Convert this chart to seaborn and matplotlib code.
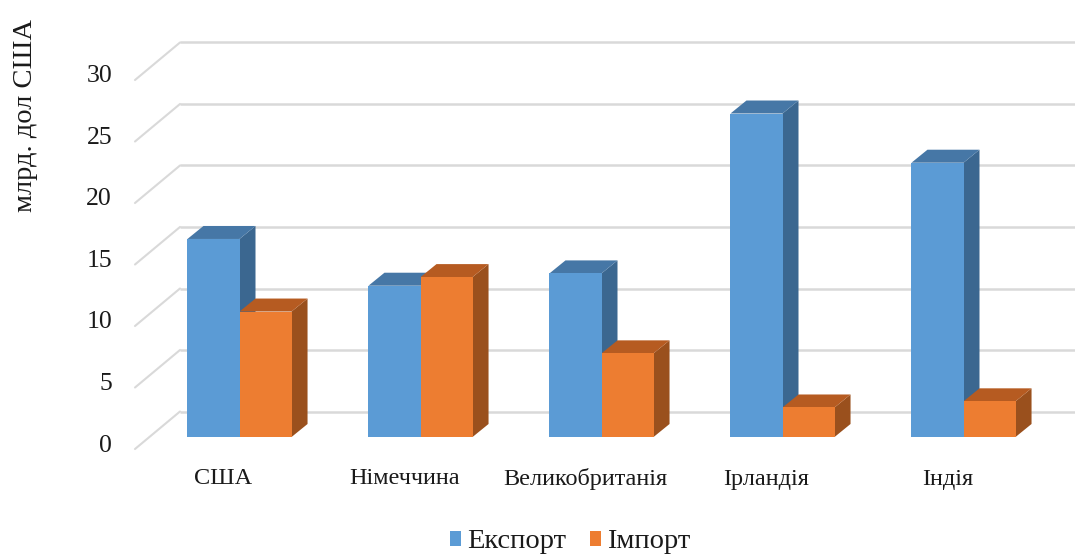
import matplotlib
matplotlib.use("Agg")
import matplotlib.pyplot as plt
import numpy as np
import pandas as pd
import seaborn as sns
from matplotlib.patches import Polygon, Patch

# Trade in services, billion USD
countries = ["США", "Німеччина", "Великобританія", "Ірландія", "Індія"]
export_values = [16.1, 12.3, 13.3, 26.3, 22.3]
import_values = [10.2, 13.0, 6.8, 2.4, 2.9]
series_names = ["Експорт", "Імпорт"]
y_ticks = [0, 5, 10, 15, 20, 25, 30]
y_title = "млрд. дол США"

front_colors = ["#5b9bd5", "#ed7d31"]
top_colors = ["#4677a6", "#b65b21"]
side_colors = ["#3b6790", "#9a501d"]
grid_color = "#d9d9d9"
text_color = "#1a1a1a"

sns.set_theme(style="white")
plt.rcParams["font.family"] = ["Liberation Serif", "DejaVu Serif"]

W, H = 1075, 554
fig = plt.figure(figsize=(W / 100, H / 100), dpi=100)
ax = fig.add_axes([0, 0, 1, 1])

df = pd.DataFrame({
    "country": countries * 2,
    "value": export_values + import_values,
    "series": [series_names[0]] * len(countries) + [series_names[1]] * len(countries),
})
sns.barplot(data=df, x="country", y="value", hue="series", order=countries,
            hue_order=series_names, palette=front_colors, saturation=1,
            width=0.575, linewidth=0, errorbar=None, legend=False, ax=ax)

# pixel layout of the front plane: category step, value scale, baseline
X0, STEP = 239.5, 181.0
Y0, SCALE = 437.0, 12.3
ax.set_xlim(-X0 / STEP, (W - X0) / STEP)
ax.set_ylim(-(H - Y0) / SCALE, Y0 / SCALE)
ax.axis("off")


def dxd(px):
    return px / STEP


def dyd(px):
    return px / SCALE


# depth of the columns (right and up, in pixels)
DEPTH_X, DEPTH_Y = 16, 13
# back wall lies above the front plane, side wall runs to the left
WALL_UP = 25.5
WALL_LEFT_PX = 180
SIDE_FRONT_PX = 135
SIDE_DROP = 37.5

wall_x0 = (WALL_LEFT_PX - X0) / STEP
side_x0 = (SIDE_FRONT_PX - X0) / STEP
x_right = ax.get_xlim()[1]
for v in y_ticks:
    yb = v + dyd(WALL_UP)
    ax.plot([wall_x0, x_right], [yb, yb], color=grid_color, lw=1.8, zorder=0,
            solid_capstyle="butt")
    ax.plot([side_x0, wall_x0], [yb - dyd(SIDE_DROP), yb], color=grid_color,
            lw=1.5, zorder=0)
    ax.text(-(X0 - 112) / STEP, yb - dyd(SIDE_DROP) + dyd(3.5), str(v),
            ha="right", va="center", fontsize=18.5, color=text_color)

# 3D faces for each column
ddx, ddy = dxd(DEPTH_X), dyd(DEPTH_Y)
for k, cont in enumerate(ax.containers):
    for bar in cont:
        x0 = bar.get_x()
        x1 = x0 + bar.get_width()
        y1 = bar.get_height()
        side = Polygon([(x1, 0), (x1 + ddx, ddy), (x1 + ddx, y1 + ddy), (x1, y1)],
                       closed=True, facecolor=side_colors[k], edgecolor="none",
                       zorder=2)
        top = Polygon([(x0, y1), (x1, y1), (x1 + ddx, y1 + ddy), (x0 + ddx, y1 + ddy)],
                      closed=True, facecolor=top_colors[k], edgecolor="none",
                      zorder=3)
        ax.add_patch(side)
        ax.add_patch(top)
        bar.set_zorder(4)

# category labels sit on the front edge of the floor
label_y = -(479 - Y0) / SCALE
for i, name in enumerate(countries):
    ax.text(i - dxd(16), label_y, name, ha="center", va="center",
            fontsize=17.5, color=text_color)

fig.text(26 / W, 1 - 115 / H, y_title, rotation=90, ha="center", va="center",
         fontsize=20.5, color=text_color)

handles = [Patch(facecolor=c, edgecolor="none") for c in front_colors]
fig.legend(handles, series_names, loc="center", bbox_to_anchor=(570 / W, 1 - 542 / H),
           ncol=2, frameon=False, fontsize=20.5, handlelength=0.4, handleheight=0.4,
           handletextpad=0.2, columnspacing=0.85, labelcolor=text_color,
           borderpad=0.1)

fig.savefig("out.png", dpi=100, facecolor="white")
